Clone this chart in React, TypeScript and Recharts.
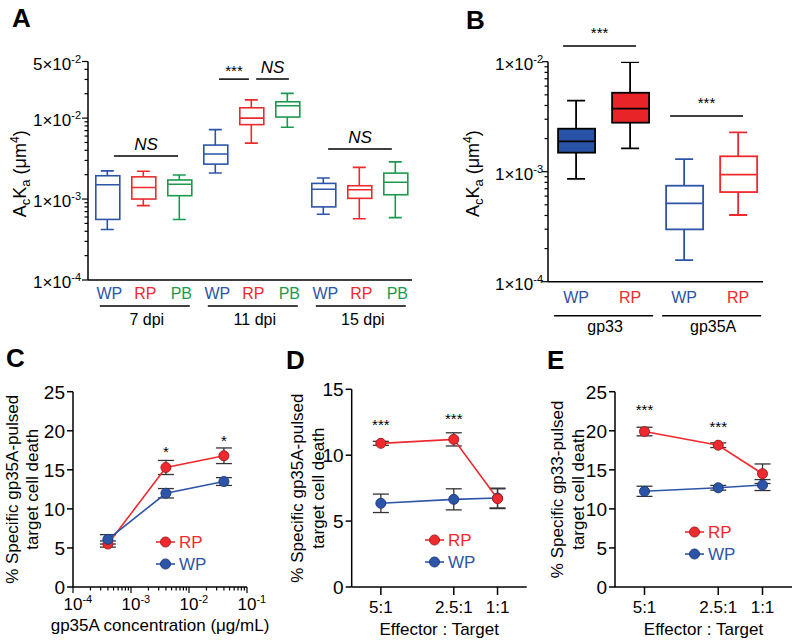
import React from "react";
import {
  ComposedChart,
  Bar,
  Scatter,
  Line,
  XAxis,
  YAxis,
  ReferenceLine,
  ReferenceDot,
  ErrorBar,
  Legend,
} from "recharts";

const FONT = '"Liberation Sans", Arial, Helvetica, sans-serif';
const BLUE = "#2c55a8";
const RED = "#ee2a2e";
const GREEN = "#1b9a4f";
const AX = { stroke: "#000", strokeWidth: 1.5 };

// ---------- panel A: box plots per day post infection ----------
const aGroups = ["7 dpi", "11 dpi", "15 dpi"];
const aCats = ["WP", "RP", "PB"];
const aMin = [4.2e-4, 8.3e-4, 5.6e-4, 2.1e-3, 4.9e-3, 7.7e-3, 6.5e-4, 5.7e-4, 5.9e-4];
const aQ1 = [5.6e-4, 1.0e-3, 1.1e-3, 2.7e-3, 8.3e-3, 1.03e-2, 8.0e-4, 1.02e-3, 1.13e-3];
const aMed = [1.5e-3, 1.39e-3, 1.52e-3, 3.6e-3, 1.0e-2, 1.42e-2, 1.32e-3, 1.3e-3, 1.61e-3];
const aQ3 = [1.94e-3, 1.88e-3, 1.72e-3, 4.64e-3, 1.34e-2, 1.59e-2, 1.56e-3, 1.46e-3, 2.09e-3];
const aMax = [2.23e-3, 2.2e-3, 1.98e-3, 7.2e-3, 1.68e-2, 2.02e-2, 1.82e-3, 2.46e-3, 2.88e-3];
const aYLabels = [1e-4, 1e-3, 1e-2, 5e-2];
const aSig = [
  { from: 1.17, to: 2.95, y: 3.4e-3, text: "NS" },
  { from: 4.09, to: 4.92, y: 3.03e-2, text: "***" },
  { from: 5.12, to: 6.03, y: 3.03e-2, text: "NS" },
  { from: 7.12, to: 8.89, y: 4.14e-3, text: "NS" },
];

// ---------- panel B: gp33 / gp35A ----------
const bGroups = ["gp33", "gp35A"];
const bCats = ["WP", "RP"];
const bMin = [8.6e-4, 1.63e-3, 1.57e-4, 4.04e-4];
const bQ1 = [1.49e-3, 2.79e-3, 2.99e-4, 6.53e-4];
const bMed = [1.89e-3, 3.74e-3, 5.16e-4, 9.39e-4];
const bQ3 = [2.46e-3, 5.22e-3, 7.46e-4, 1.38e-3];
const bMax = [4.42e-3, 9.93e-3, 1.3e-3, 2.28e-3];
const bYLabels = [1e-4, 1e-3, 1e-2];
const bSig = [
  { from: 0.76, to: 2.11, y: 1.39e-2, text: "***" },
  { from: 2.74, to: 4.09, y: 3.21e-3, text: "***" },
];

// ---------- panel C: dose response ----------
const cConc = [4e-4, 4e-3, 4e-2];
const cRP = [5.5, 15.3, 16.8];
const cRPErr = [0.4, 0.9, 1.0];
const cWP = [6.1, 12.0, 13.5];
const cWPErr = [0.6, 0.6, 0.5];
const cXLabels = [1e-4, 1e-3, 1e-2, 1e-1];
const cStars = [
  { x: 4e-3, y: 17.8, text: "*" },
  { x: 4e-2, y: 19.1, text: "*" },
];

// ---------- panels D, E: effector:target ----------
const etRatio = [5, 2.5, 1];
const etLabels = ["5:1", "2.5:1", "1:1"];
const dRP = [10.9, 11.2, 6.7];
const dRPErr = [0.15, 0.5, 0.75];
const dWP = [6.35, 6.65, 6.75];
const dWPErr = [0.7, 0.8, 0.75];
const dStars = [
  { x: 5, y: 12.6, text: "***" },
  { x: 2.5, y: 13.05, text: "***" },
];
const eRP = [19.9, 18.15, 14.5];
const eRPErr = [0.55, 0.3, 1.25];
const eWP = [12.25, 12.7, 13.05];
const eWPErr = [0.65, 0.3, 0.7];
const eStars = [
  { x: 5, y: 23.1, text: "***" },
  { x: 2.5, y: 21.0, text: "***" },
];

const catColor: Record<string, string> = { WP: BLUE, RP: RED, PB: GREEN };

function minorLog(fromExp: number, toExp: number, max: number) {
  const out: number[] = [];
  for (let e = fromExp; e <= toExp; e++) {
    for (let m = 2; m <= 9; m++) {
      const v = m * Math.pow(10, e);
      if (v < max * 0.999) out.push(v);
    }
  }
  return out;
}

const isMajor = (majors: number[], v: number) => majors.some((m) => Math.abs(m - v) / m < 1e-6);

function makeLogYTick(majors: number[], gap: number) {
  return (p: any) => {
    const { x, y, payload } = p;
    const v = payload.value;
    const major = isMajor(majors, v);
    const e = Math.floor(Math.log10(v) + 1e-9);
    const m = Math.round(v / Math.pow(10, e));
    return (
      <g>
        <line x1={x - (major ? 6 : 3.5)} x2={x} y1={y} y2={y} stroke="#000" strokeWidth={1.2} />
        {major && (
          <text x={x - gap} y={y + 8} textAnchor="end" fontSize={17} fontFamily={FONT} fill="#000">
            {m}×10<tspan dy={-7} fontSize={11}>{e}</tspan>
          </text>
        )}
      </g>
    );
  };
}

function makeWhisker(cap: number, sw: number, colorOf: (r: any) => string) {
  return (p: any) => {
    const { x, y, width, height, payload } = p;
    if (x == null || y == null) return null;
    const top = Math.min(y, y + height);
    const bot = Math.max(y, y + height);
    const cx = x + width / 2;
    return (
      <g stroke={colorOf(payload)} strokeWidth={sw} fill="none">
        <line x1={cx} x2={cx} y1={top} y2={bot} />
        <line x1={cx - cap / 2} x2={cx + cap / 2} y1={top} y2={top} />
        <line x1={cx - cap / 2} x2={cx + cap / 2} y1={bot} y2={bot} />
      </g>
    );
  };
}

function makeBox(sw: number, strokeOf: (r: any) => string, fillOf: (r: any) => string) {
  return (p: any) => {
    const { x, y, width, height, payload } = p;
    if (x == null || y == null) return null;
    return (
      <rect
        x={x}
        y={Math.min(y, y + height)}
        width={width}
        height={Math.abs(height)}
        fill={fillOf(payload)}
        stroke={strokeOf(payload)}
        strokeWidth={sw}
      />
    );
  };
}

function makeMedian(w: number, sw: number, colorOf: (r: any) => string) {
  return (p: any) => (
    <line x1={p.cx - w / 2} x2={p.cx + w / 2} y1={p.cy} y2={p.cy} stroke={colorOf(p.payload)} strokeWidth={sw} />
  );
}

function sigText(gap: number, text: string) {
  return (p: any) => (
    <text
      x={p.cx}
      y={p.cy - (text === "NS" ? 6 : gap)}
      textAnchor="middle"
      fontSize={text === "NS" ? 17 : 15}
      fontStyle={text === "NS" ? "italic" : "normal"}
      fontFamily={FONT}
      fill="#000"
    >
      {text}
    </text>
  );
}

function starText(p: any, text: string) {
  return (
    <text x={p.cx} y={p.cy + 8.6} textAnchor="middle" fontSize={15} fontFamily={FONT} fill="#000">
      {text}
    </text>
  );
}

function acKaLabel(dx: number, dy: number) {
  return (props: any) => {
    const vb = props.viewBox || { x: 0, y: 0, height: 0 };
    const x = vb.x + dx;
    const y = vb.y + vb.height / 2 + dy;
    return (
      <text x={x} y={y} transform={`rotate(-90 ${x} ${y})`} textAnchor="middle" fontSize={18} fontFamily={FONT} fill="#000">
        A<tspan dy={4} fontSize={13}>c</tspan>
        <tspan dy={-4}>K</tspan>
        <tspan dy={4} fontSize={13}>a</tspan>
        <tspan dy={-4}>{" (μm"}</tspan>
        <tspan dy={-7} fontSize={12}>4</tspan>
        <tspan dy={7}>)</tspan>
      </text>
    );
  };
}

function twoLineLabel(lines: string[], dx: number[]) {
  return (props: any) => {
    const vb = props.viewBox || { x: 0, y: 0, height: 0 };
    const y = vb.y + vb.height / 2;
    return (
      <g>
        {lines.map((t, k) => {
          const x = vb.x + dx[k];
          return (
            <text key={t} x={x} y={y} transform={`rotate(-90 ${x} ${y})`} textAnchor="middle" fontSize={17} fontFamily={FONT} fill="#000">
              {t}
            </text>
          );
        })}
      </g>
    );
  };
}

function xTitle(text: string, dy: number) {
  return (props: any) => {
    const vb = props.viewBox || { x: 0, y: 0, width: 0 };
    return (
      <text x={vb.x + vb.width / 2} y={vb.y + dy} textAnchor="middle" fontSize={17} fontFamily={FONT} fill="#000">
        {text}
      </text>
    );
  };
}

function NumTick(p: any) {
  const { x, y, payload } = p;
  return (
    <g>
      <line x1={x - 6} x2={x} y1={y} y2={y} stroke="#000" strokeWidth={1.5} />
      <text x={x - 8} y={y + 7} textAnchor="end" fontSize={19} fontFamily={FONT} fill="#000">
        {payload.value}
      </text>
    </g>
  );
}

function RatioTick(p: any) {
  const { x, y, payload } = p;
  const i = etRatio.indexOf(payload.value);
  return (
    <g>
      <line x1={x} x2={x} y1={y} y2={y + 8} stroke="#000" strokeWidth={1.5} />
      <text x={x} y={y + 26} textAnchor="middle" fontSize={17} fontFamily={FONT} fill="#000">
        {etLabels[i]}
      </text>
    </g>
  );
}

function CLogTick(p: any) {
  const { x, y, payload } = p;
  const v = payload.value;
  const major = isMajor(cXLabels, v);
  const e = Math.round(Math.log10(v));
  return (
    <g>
      <line x1={x} x2={x} y1={y} y2={y + (major ? 6 : 3.5)} stroke="#000" strokeWidth={1.2} />
      {major && (
        <text x={x - 9.5} y={y + 23} fontSize={17} fontFamily={FONT} fill="#000">
          10<tspan dy={-7} fontSize={11}>{e}</tspan>
        </text>
      )}
    </g>
  );
}

function ACatTick(p: any) {
  const { x, y, payload } = p;
  const i = Math.round(payload.value) - 1;
  const cat = aCats[i % 3];
  return (
    <g>
      <text x={x + 1.5} y={y + 19} textAnchor="middle" fontSize={16} fontFamily={FONT} fill={catColor[cat]}>
        {cat}
      </text>
      {i % 3 === 1 && (
        <g>
          <line x1={x - 44} x2={x + 46} y1={y + 26} y2={y + 26} stroke="#000" strokeWidth={1.5} />
          <text x={x + 3} y={y + 45} textAnchor="middle" fontSize={16} fontFamily={FONT} fill="#000">
            {aGroups[(i - 1) / 3]}
          </text>
        </g>
      )}
    </g>
  );
}

function BCatTick(p: any) {
  const { x, y, payload } = p;
  const i = Math.round(payload.value) - 1;
  const cat = bCats[i % 2];
  return (
    <g>
      <text x={x} y={y + 21} textAnchor="middle" fontSize={16} fontFamily={FONT} fill={catColor[cat]}>
        {cat}
      </text>
      {i % 2 === 0 && (
        <g>
          <line x1={x - 22} x2={x + 77} y1={y + 34} y2={y + 34} stroke="#000" strokeWidth={1.5} />
          <text x={x + 29} y={y + 50} textAnchor="middle" fontSize={16} fontFamily={FONT} fill="#000">
            {bGroups[i / 2]}
          </text>
        </g>
      )}
    </g>
  );
}

function LegendBox() {
  const items = [
    { name: "RP", color: RED, edge: "#a91d22" },
    { name: "WP", color: BLUE, edge: "#1e3c80" },
  ];
  return (
    <svg width={60} height={46} style={{ display: "block", overflow: "visible" }}>
      {items.map((it, k) => {
        const cy = 11 + 22 * k;
        return (
          <g key={it.name}>
            <line x1={6} x2={25} y1={cy} y2={cy} stroke={it.color} strokeWidth={1.6} />
            <circle cx={15.5} cy={cy} r={5} fill={it.color} stroke={it.edge} strokeWidth={1} />
            <text x={29} y={cy + 6} fontSize={17} fontFamily={FONT} fill={it.color}>
              {it.name}
            </text>
          </g>
        );
      })}
    </svg>
  );
}

const aRows = aMed.map((med, i) => ({
  pos: i + 1,
  cat: aCats[i % 3],
  grp: Math.floor(i / 3),
  min: aMin[i],
  q1: aQ1[i],
  med,
  q3: aQ3[i],
  max: aMax[i],
}));
const bRows = bMed.map((med, i) => ({
  pos: i + 1,
  cat: bCats[i % 2],
  grp: Math.floor(i / 2),
  min: bMin[i],
  q1: bQ1[i],
  med,
  q3: bQ3[i],
  max: bMax[i],
}));
const cRows = cConc.map((conc, i) => ({ conc, rp: cRP[i], rpErr: cRPErr[i], wp: cWP[i], wpErr: cWPErr[i] }));
const dRows = etRatio.map((r, i) => ({ r, rp: dRP[i], rpErr: dRPErr[i], wp: dWP[i], wpErr: dWPErr[i] }));
const eRows = etRatio.map((r, i) => ({ r, rp: eRP[i], rpErr: eRPErr[i], wp: eWP[i], wpErr: eWPErr[i] }));

const aYTicks = [...aYLabels, ...minorLog(-4, -2, 5e-2)].sort((p, q) => p - q);
const bYTicks = [...bYLabels, ...minorLog(-4, -3, 1e-2)].sort((p, q) => p - q);
const cXTicks = [...cXLabels, ...minorLog(-4, -2, 1e-1)].sort((p, q) => p - q);

const aColor = (r: any) => catColor[r.cat];
const bStroke = (r: any) => (r.grp === 0 ? "#000" : catColor[r.cat]);
const bFill = (r: any) => (r.grp === 0 ? (r.cat === "WP" ? "#2953a6" : "#e92428") : "#fff");

function PanelA() {
  return (
    <ComposedChart width={430} height={340} data={aRows} margin={{ top: 61.5, right: 18, left: 0, bottom: 0 }}>
      <XAxis xAxisId="b" dataKey="pos" type="number" domain={[0.45, 9.45]} hide height={0} allowDataOverflow />
      <XAxis
        xAxisId="m"
        dataKey="pos"
        type="number"
        domain={[0.45, 9.45]}
        ticks={[1, 2, 3, 4, 5, 6, 7, 8, 9]}
        interval={0}
        tickSize={0}
        tickMargin={0}
        tickLine={false}
        tick={ACatTick}
        axisLine={AX}
        height={60}
        allowDataOverflow
      />
      <YAxis
        type="number"
        scale="log"
        domain={[1e-4, 5e-2]}
        allowDataOverflow
        ticks={aYTicks}
        interval={0}
        tickSize={0}
        tickMargin={0}
        tickLine={false}
        tick={makeLogYTick(aYLabels, 7)}
        axisLine={AX}
        width={88}
        label={acKaLabel(26, 3)}
      />
      <Bar xAxisId="m" dataKey={(d: any) => [d.min, d.max]} barSize={13} shape={makeWhisker(13, 1.6, aColor)} isAnimationActive={false} />
      <Bar xAxisId="b" dataKey={(d: any) => [d.q1, d.q3]} barSize={24} shape={makeBox(1.6, aColor, () => "#fff")} isAnimationActive={false} />
      <Scatter xAxisId="m" dataKey="med" shape={makeMedian(24, 1.6, aColor)} isAnimationActive={false} />
      {aSig.map((s) => (
        <ReferenceLine
          key={`l${s.from}`}
          xAxisId="m"
          segment={[
            { x: s.from, y: s.y },
            { x: s.to, y: s.y },
          ]}
          stroke="#000"
          strokeWidth={1.5}
          ifOverflow="visible"
        />
      ))}
      {aSig.map((s) => (
        <ReferenceDot
          key={`t${s.from}`}
          xAxisId="m"
          x={(s.from + s.to) / 2}
          y={s.y}
          r={0}
          ifOverflow="visible"
          shape={sigText(3.5, s.text)}
        />
      ))}
    </ComposedChart>
  );
}

function PanelB() {
  return (
    <ComposedChart width={380} height={340} data={bRows} margin={{ top: 61.7, right: 37, left: 0, bottom: 0 }}>
      <XAxis xAxisId="b" dataKey="pos" type="number" domain={[0.48, 4.46]} hide height={0} allowDataOverflow />
      <XAxis
        xAxisId="m"
        dataKey="pos"
        type="number"
        domain={[0.48, 4.46]}
        ticks={[1, 2, 3, 4]}
        interval={0}
        tickSize={0}
        tickMargin={0}
        tickLine={false}
        tick={BCatTick}
        axisLine={AX}
        height={58.3}
        allowDataOverflow
      />
      <YAxis
        type="number"
        scale="log"
        domain={[1e-4, 1e-2]}
        allowDataOverflow
        ticks={bYTicks}
        interval={0}
        tickSize={0}
        tickMargin={0}
        tickLine={false}
        tick={makeLogYTick(bYLabels, 5)}
        axisLine={AX}
        width={128}
        label={acKaLabel(59, 2)}
      />
      <Bar xAxisId="m" dataKey={(d: any) => [d.min, d.max]} barSize={18} shape={makeWhisker(18, 1.8, bStroke)} isAnimationActive={false} />
      <Bar xAxisId="b" dataKey={(d: any) => [d.q1, d.q3]} barSize={37} shape={makeBox(1.8, bStroke, bFill)} isAnimationActive={false} />
      <Scatter xAxisId="m" dataKey="med" shape={makeMedian(37, 1.8, bStroke)} isAnimationActive={false} />
      {bSig.map((s) => (
        <ReferenceLine
          key={`l${s.from}`}
          xAxisId="m"
          segment={[
            { x: s.from, y: s.y },
            { x: s.to, y: s.y },
          ]}
          stroke="#000"
          strokeWidth={1.5}
          ifOverflow="visible"
        />
      ))}
      {bSig.map((s) => (
        <ReferenceDot key={`t${s.from}`} xAxisId="m" x={(s.from + s.to) / 2} y={s.y} r={0} ifOverflow="visible" shape={sigText(7.5, s.text)} />
      ))}
    </ComposedChart>
  );
}

const rpDot = { r: 5, fill: RED, stroke: "#a91d22", strokeWidth: 1 };
const wpDot = { r: 5, fill: BLUE, stroke: "#1e3c80", strokeWidth: 1 };

function PanelC() {
  return (
    <ComposedChart width={270} height={304} data={cRows} margin={{ top: 51.7, right: 23, left: 0, bottom: 0 }}>
      <XAxis
        dataKey="conc"
        type="number"
        scale="log"
        domain={[1e-4, 1e-1]}
        allowDataOverflow
        ticks={cXTicks}
        interval={0}
        tickSize={0}
        tickMargin={0}
        tickLine={false}
        tick={CLogTick}
        axisLine={AX}
        height={57}
        label={xTitle("gp35A concentration (μg/mL)", 44)}
      />
      <YAxis
        type="number"
        domain={[0, 25]}
        ticks={[0, 5, 10, 15, 20, 25]}
        interval={0}
        tickSize={0}
        tickMargin={0}
        tickLine={false}
        tick={NumTick}
        axisLine={AX}
        width={73}
        label={twoLineLabel(["% Specific gp35A-pulsed", "target cell death"], [18, 38])}
      />
      <Line dataKey="rp" stroke={RED} strokeWidth={1.6} dot={rpDot} isAnimationActive={false}>
        <ErrorBar dataKey="rpErr" width={8} stroke="#333" strokeWidth={1.3} direction="y" />
      </Line>
      <Line dataKey="wp" stroke={BLUE} strokeWidth={1.6} dot={wpDot} isAnimationActive={false}>
        <ErrorBar dataKey="wpErr" width={8} stroke="#333" strokeWidth={1.3} direction="y" />
      </Line>
      {cStars.map((s) => (
        <ReferenceDot key={s.x} x={s.x} y={s.y} r={0} ifOverflow="visible" shape={(p: any) => starText(p, s.text)} />
      ))}
      <Legend
        layout="vertical"
        align="center"
        verticalAlign="middle"
        wrapperStyle={{ left: 150, top: 190.5, width: 60, height: 46 }}
        content={() => <LegendBox />}
      />
    </ComposedChart>
  );
}

function EffectorPanel(props: {
  rows: any[];
  top: number;
  width: number;
  axisW: number;
  right: number;
  yMax: number;
  yTicks: number[];
  stars: { x: number; y: number; text: string }[];
  ylabel: string;
  labelDx: number[];
  legend: { left: number; top: number };
  redFirst: boolean;
}) {
  const rp = (
    <Line key="rp" dataKey="rp" stroke={RED} strokeWidth={1.6} dot={rpDot} isAnimationActive={false}>
      <ErrorBar dataKey="rpErr" width={8} stroke="#333" strokeWidth={1.3} direction="y" />
    </Line>
  );
  const wp = (
    <Line key="wp" dataKey="wp" stroke={BLUE} strokeWidth={1.6} dot={wpDot} isAnimationActive={false}>
      <ErrorBar dataKey="wpErr" width={8} stroke="#333" strokeWidth={1.3} direction="y" />
    </Line>
  );
  return (
    <ComposedChart width={props.width} height={304} data={props.rows} margin={{ top: props.top, right: props.right, left: 0, bottom: 0 }}>
      <XAxis
        dataKey="r"
        type="number"
        domain={[0, 6]}
        reversed
        allowDataOverflow
        ticks={etRatio}
        interval={0}
        tickSize={0}
        tickMargin={0}
        tickLine={false}
        tick={RatioTick}
        axisLine={AX}
        height={57}
        label={xTitle("Effector : Target", 48)}
      />
      <YAxis
        type="number"
        domain={[0, props.yMax]}
        ticks={props.yTicks}
        interval={0}
        tickSize={0}
        tickMargin={0}
        tickLine={false}
        tick={NumTick}
        axisLine={AX}
        width={props.axisW}
        label={twoLineLabel([props.ylabel, "target cell death"], props.labelDx)}
      />
      {props.redFirst ? [rp, wp] : [wp, rp]}
      {props.stars.map((s) => (
        <ReferenceDot key={s.x} x={s.x} y={s.y} r={0} ifOverflow="visible" shape={(p: any) => starText(p, s.text)} />
      ))}
      <Legend
        layout="vertical"
        align="center"
        verticalAlign="middle"
        wrapperStyle={{ left: props.legend.left, top: props.legend.top, width: 60, height: 46 }}
        content={() => <LegendBox />}
      />
    </ComposedChart>
  );
}

const letterStyle: React.CSSProperties = {
  position: "absolute",
  fontFamily: FONT,
  fontWeight: "bold",
  fontSize: 26,
  lineHeight: 1,
  color: "#000",
};

export default function App() {
  return (
    <div style={{ position: "absolute", left: 0, top: 0, width: 800, height: 644, background: "#fff", fontFamily: FONT }}>
      <div style={{ position: "absolute", left: 0, top: 0 }}>
        <PanelA />
      </div>
      <div style={{ position: "absolute", left: 420, top: 0 }}>
        <PanelB />
      </div>
      <div style={{ position: "absolute", left: 0, top: 340 }}>
        <PanelC />
      </div>
      <div style={{ position: "absolute", left: 270, top: 340 }}>
        <EffectorPanel
          rows={dRows}
          top={49.3}
          width={270}
          axisW={81.7}
          right={13.3}
          yMax={15}
          yTicks={[0, 5, 10, 15]}
          stars={dStars}
          ylabel="% Specific gp35A-pulsed"
          labelDx={[33, 54]}
          legend={{ left: 148.5, top: 189 }}
          redFirst={false}
        />
      </div>
      <div style={{ position: "absolute", left: 540, top: 340 }}>
        <EffectorPanel
          rows={eRows}
          top={51.7}
          width={260}
          axisW={75}
          right={8}
          yMax={25}
          yTicks={[0, 5, 10, 15, 20, 25]}
          stars={eStars}
          ylabel="% Specific gp33-pulsed"
          labelDx={[23, 44]}
          legend={{ left: 138.5, top: 181.3 }}
          redFirst={true}
        />
      </div>
      <div style={{ ...letterStyle, left: 12, top: 4.6 }}>A</div>
      <div style={{ ...letterStyle, left: 466, top: 6.6 }}>B</div>
      <div style={{ ...letterStyle, left: 6, top: 344.6 }}>C</div>
      <div style={{ ...letterStyle, left: 286, top: 346.6 }}>D</div>
      <div style={{ ...letterStyle, left: 547, top: 346.6 }}>E</div>
    </div>
  );
}
